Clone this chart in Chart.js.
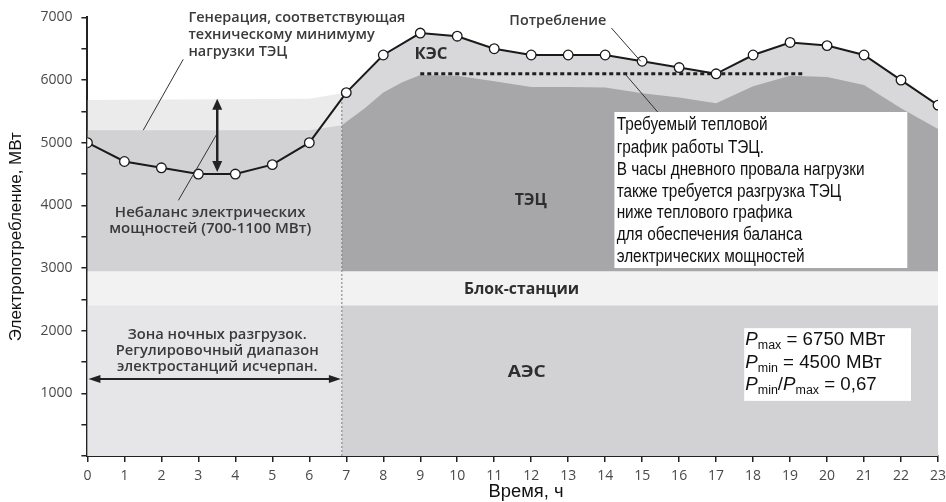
<!DOCTYPE html>
<html>
<head>
<meta charset="utf-8">
<script src="https://cdn.jsdelivr.net/npm/chart.js@4.4.1/dist/chart.umd.min.js"></script>
<style>
  html, body { margin: 0; padding: 0; background: #fff; }
</style>
</head>
<body>
<canvas id="loadChart" width="946" height="502"></canvas>
<script>
// hours of the day
let hours = [0, 1, 2, 3, 4, 5, 6, 7, 8, 9, 10, 11, 12, 13, 14, 15, 16, 17, 18, 19, 20, 21, 22, 23];
// consumption, MW
let consumption = [5000, 4700, 4600, 4500, 4500, 4650, 5000, 5800, 6400, 6750, 6700, 6500,
                   6400, 6400, 6400, 6300, 6200, 6100, 6400, 6600, 6550, 6400, 6000, 5600];

// day part: upper edge of the ТЭЦ layer
let tecHours = [6.88, 7.5, 8, 8.5, 9, 10, 11, 12, 13, 14, 15, 16, 17, 18, 19, 20, 21, 22, 23];
let tecTop = [5280, 5550, 5800, 5960, 6080, 6070, 5980, 5890, 5890, 5880, 5790, 5720, 5630,
              5900, 6070, 6050, 5920, 5550, 5220];

// night zone: ТЭЦ layer and the band of technical minimum
let nightHours = [0, 6, 6.88];
let tecNight = [5200, 5200, 5280];
let minGenNight = [5680, 5700, 5790];

let aesLevel = 2400;     // АЭС
let blockLevel = 2950;   // Блок-станции
let heatHours = [9, 19.4];
let heatLevel = 6100;    // required heat schedule of ТЭЦ

let nightEnd = nightHours[nightHours.length - 1];

function pts(xs, ys) {
    return xs.map((x, i) => ({ x: x, y: ys[i] }));
}

function area(label, data, color, order) {
    return {
        label: label,
        data: data,
        backgroundColor: color,
        borderColor: 'transparent',
        borderWidth: 0,
        pointRadius: 0,
        fill: 'origin',
        order: order
    };
}

// text squeezed / stretched to a given width (the source picture is a bit condensed)
function fitLines(ctx, lines, x, ys, font, color, align, width) {
    ctx.save();
    ctx.font = font;
    let widest = Math.max(...lines.map(s => ctx.measureText(s).width));
    let sx = width / widest;
    ctx.fillStyle = color;
    ctx.textAlign = align;
    ctx.textBaseline = 'middle';
    lines.forEach((s, i) => {
        ctx.save();
        ctx.translate(x, ys[i]);
        ctx.scale(sx, 1);
        ctx.fillText(s, 0, 0);
        ctx.restore();
    });
    ctx.restore();
}

function richLine(ctx, parts, x, y, size, sx, dry) {
    ctx.save();
    ctx.translate(x, y);
    ctx.scale(sx, 1);
    ctx.textBaseline = 'alphabetic';
    ctx.textAlign = 'left';
    ctx.fillStyle = '#111';
    let cx = 0;
    parts.forEach(p => {
        let fs = p.sub ? Math.round(size * 0.68) : size;
        ctx.font = (p.it ? 'italic ' : '') + fs + 'px Arial, "Liberation Sans", sans-serif';
        if (!dry) ctx.fillText(p.t, cx, p.sub ? 4 : 0);
        cx += ctx.measureText(p.t).width;
    });
    ctx.restore();
    return cx;
}

function arrowHead(ctx, x, y, dx, dy, len, half) {
    let nx = -dy, ny = dx;
    ctx.beginPath();
    ctx.moveTo(x, y);
    ctx.lineTo(x - dx * len + nx * half, y - dy * len + ny * half);
    ctx.lineTo(x - dx * len - nx * half, y - dy * len - ny * half);
    ctx.closePath();
    ctx.fill();
}

const notes = {
    id: 'notes',
    afterDatasetsDraw(chart) {
        const ctx = chart.ctx;
        const X = v => chart.scales.x.getPixelForValue(v);
        const Y = v => chart.scales.y.getPixelForValue(v);
        const semi = '600 15px "Open Sans", sans-serif';
        const bold = '700 16px "Open Sans", sans-serif';
        const grey = '#3a3a3a';

        // leader lines
        ctx.save();
        ctx.strokeStyle = '#333';
        ctx.lineWidth = 1;
        [[2.59, 6330, 1.51, 5200], [2.46, 4080, 3.51, 5150],
         [14.17, 6830, 14.96, 6300], [14.52, 6110, 15.42, 5490]].forEach(l => {
            ctx.beginPath();
            ctx.moveTo(X(l[0]), Y(l[1]));
            ctx.lineTo(X(l[2]), Y(l[3]));
            ctx.stroke();
        });

        // vertical double arrow (imbalance)
        ctx.strokeStyle = '#222';
        ctx.fillStyle = '#222';
        ctx.lineWidth = 2.5;
        let ax = X(3.51), a1 = Y(5700), a2 = Y(4500);
        ctx.beginPath();
        ctx.moveTo(ax, a1 + 8);
        ctx.lineTo(ax, a2 - 8);
        ctx.stroke();
        arrowHead(ctx, ax, a1, 0, -1, 11, 5);
        arrowHead(ctx, ax, a2 - 2, 0, 1, 11, 5);

        // horizontal double arrow (night zone)
        ctx.lineWidth = 2;
        let hy = Y(1230), h1 = X(0) + 1, h2 = X(nightEnd) - 1;
        ctx.beginPath();
        ctx.moveTo(h1 + 8, hy);
        ctx.lineTo(h2 - 8, hy);
        ctx.stroke();
        arrowHead(ctx, h1, hy, -1, 0, 12, 4);
        arrowHead(ctx, h2, hy, 1, 0, 12, 4);
        ctx.restore();

        fitLines(ctx, ['Генерация, соответствующая', 'техническому минимуму', 'нагрузки ТЭЦ'],
                 X(2.73), [Y(7000), Y(6730), Y(6460)], semi, grey, 'left', 217);
        fitLines(ctx, ['Небаланс электрических', 'мощностей (700-1100 МВт)'],
                 X(3.32), [Y(3890), Y(3620)], semi, grey, 'center', 202);
        fitLines(ctx, ['Зона ночных разгрузок.', 'Регулировочный диапазон', 'электростанций исчерпан.'],
                 X(3.51), [Y(1930), Y(1675), Y(1420)], semi, grey, 'center', 203);
        fitLines(ctx, ['Потребление'], X(12.72), [Y(6950)], semi, grey, 'center', 97);
        fitLines(ctx, ['КЭС'], X(9.29), [Y(6410)], bold, '#2e2e2e', 'center', 33);
        fitLines(ctx, ['ТЭЦ'], X(11.99), [Y(4080)], bold, '#2e2e2e', 'center', 32);
        fitLines(ctx, ['Блок-станции'], X(11.74), [Y(2660)], bold, '#2e2e2e', 'center', 115);
        fitLines(ctx, ['АЭС'], X(11.88), [Y(1340)], bold, '#2e2e2e', 'center', 38);

        // x axis title
        fitLines(ctx, ['Время, ч'], X(11.86), [chart.chartArea.bottom + 36],
                 '18px Arial, "Liberation Sans", sans-serif', '#111', 'center', 75);

        // white note box about the heat schedule
        ctx.fillStyle = '#fff';
        ctx.fillRect(X(14.25), Y(5490), X(22.17) - X(14.25), Y(3000) - Y(5490));
        fitLines(ctx, ['Требуемый тепловой', 'график работы ТЭЦ.', 'В часы дневного провала нагрузки',
                       'также требуется разгрузка ТЭЦ', 'ниже теплового графика',
                       'для обеспечения баланса', 'электрических мощностей'],
                 X(14.31), [5280, 4920, 4560, 4210, 3870, 3530, 3170].map(Y),
                 '18px Arial, "Liberation Sans", sans-serif', '#111', 'left', 248);

        // white box with Pmax / Pmin
        ctx.fillStyle = '#fff';
        ctx.fillRect(X(17.76), Y(2040), X(22.27) - X(17.76), Y(880) - Y(2040));
        let rows = [
            [{ t: 'P', it: true }, { t: 'max', sub: true }, { t: ' = 6750 МВт' }],
            [{ t: 'P', it: true }, { t: 'min', sub: true }, { t: ' = 4500 МВт' }],
            [{ t: 'P', it: true }, { t: 'min', sub: true }, { t: '/' }, { t: 'P', it: true },
             { t: 'max', sub: true }, { t: ' = 0,67' }]
        ];
        let natural = richLine(ctx, rows[0], 0, 0, 18, 1, true);
        let sx = 140 / natural;
        [1870, 1500, 1150].forEach((v, i) => richLine(ctx, rows[i], X(17.79), Y(v) + 6, 18, sx, false));
    }
};

const ctx = document.getElementById('loadChart').getContext('2d');

new Chart(ctx, {
    type: 'line',
    data: {
        datasets: [
            {
                label: 'Требуемый тепловой график',
                data: pts(heatHours, heatHours.map(() => heatLevel)),
                borderColor: '#1e1e1e',
                borderWidth: 3,
                borderDash: [4, 3],
                pointRadius: 0,
                fill: false,
                order: 20
            },
            {
                label: 'Потребление',
                data: pts(hours, consumption),
                borderColor: '#1a1a1a',
                borderWidth: 2,
                backgroundColor: '#d8d8da',
                fill: 'origin',
                pointRadius: 4.8,
                pointBackgroundColor: '#fff',
                pointBorderColor: '#1a1a1a',
                pointBorderWidth: 1.3,
                order: 10
            },
            area('ТЭЦ', pts(tecHours, tecTop), '#a7a7a9', 9),
            area('Техминимум ТЭЦ', pts(nightHours, minGenNight), '#ebebec', 8),
            area('ТЭЦ ночь', pts(nightHours, tecNight), '#d2d2d4', 7),
            area('Блок-станции', pts([0, 23], [blockLevel, blockLevel]), '#f2f2f2', 6),
            area('АЭС ночь', pts([0, nightEnd], [aesLevel, aesLevel]), '#e6e6e8', 5),
            area('АЭС', pts([nightEnd, 23], [aesLevel, aesLevel]), '#d2d2d4', 5),
            {
                label: 'граница',
                data: pts([nightEnd, nightEnd], [0, minGenNight[minGenNight.length - 1]]),
                borderColor: '#7a7a7a',
                borderWidth: 1,
                borderDash: [2, 2],
                pointRadius: 0,
                fill: false,
                order: 15
            }
        ]
    },
    options: {
        responsive: false,
        animation: false,
        layout: { padding: { left: 6, top: 8, right: 0, bottom: 0 } },
        elements: { line: { tension: 0 } },
        plugins: {
            legend: { display: false },
            tooltip: { enabled: false },
            filler: { drawTime: 'beforeDatasetsDraw' }
        },
        scales: {
            x: {
                type: 'linear',
                min: 0,
                max: 23,
                afterFit: scale => {
                    scale.height = 46;
                    scale.paddingRight = 8;
                },
                ticks: {
                    stepSize: 1,
                    autoSkip: false,
                    maxRotation: 0,
                    padding: 6,
                    color: '#4a4a4a',
                    font: { family: '"Open Sans", sans-serif', size: 14 }
                },
                grid: { drawOnChartArea: false, drawTicks: true, tickLength: 6, color: '#222', lineWidth: 1.5 },
                border: { display: true, color: '#222', width: 2 },
                title: { display: false }
            },
            y: {
                min: 0,
                max: 7000,
                ticks: {
                    stepSize: 500,
                    padding: 9,
                    color: '#4a4a4a',
                    font: { family: '"Open Sans", sans-serif', size: 14 },
                    callback: v => (v % 1000 === 0 && v > 0) ? v : ''
                },
                grid: { drawOnChartArea: false, drawTicks: true, tickLength: 6, color: '#222', lineWidth: 1.5 },
                border: { display: true, color: '#222', width: 2 },
                title: {
                    display: true,
                    text: 'Электропотребление, МВт',
                    color: '#111',
                    padding: { top: 0, bottom: 5 },
                    font: { family: 'Arial, "Liberation Sans", sans-serif', size: 17 }
                }
            }
        }
    },
    plugins: [notes]
});
</script>
</body>
</html>
